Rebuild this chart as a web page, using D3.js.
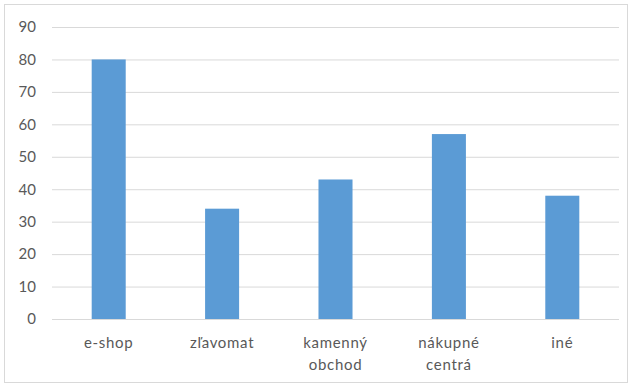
<!DOCTYPE html>
<html>
<head>
<meta charset="utf-8">
<script src="https://cdn.jsdelivr.net/npm/d3@7"></script>
<style>
  html, body { margin: 0; padding: 0; background: #fff; }
  svg { display: block; }
  text { font-family: Lato, "Open Sans", sans-serif; fill: #595959; }
</style>
</head>
<body>
<svg id="chart" width="628" height="384"></svg>
<script>
// Categories (multi-line labels split on "\n") and their values
const categories = ["e-shop", "zľavomat", "kamenný\nobchod", "nákupné\ncentrá", "iné"];
const values = [80, 34, 43, 57, 38];
const yTicks = [0, 10, 20, 30, 40, 50, 60, 70, 80, 90];

const W = 628, H = 384;
const plot = { left: 52, right: 619, top: 27, bottom: 319 };

const svg = d3.select("#chart");

// Outer chart border
svg.append("rect")
  .attr("x", 4.5).attr("y", 4.5)
  .attr("width", W - 5).attr("height", H - 6)
  .attr("fill", "#fff").attr("stroke", "#d9d9d9").attr("stroke-width", 1);

const x = d3.scaleBand()
  .domain(categories)
  .range([plot.left, plot.right])
  .paddingInner(0.7)
  .paddingOuter(0.35);

const y = d3.scaleLinear()
  .domain([0, 90])
  .range([plot.bottom, plot.top]);

// Horizontal gridlines with value labels
const yAxis = d3.axisLeft(y)
  .tickValues(yTicks)
  .tickSize(-(plot.right - plot.left))
  .tickPadding(16)
  .tickFormat(d3.format("d"));

const gy = svg.append("g")
  .attr("transform", `translate(${plot.left},0)`)
  .call(yAxis);
gy.select(".domain").remove();
gy.selectAll(".tick line").attr("stroke", "#d9d9d9").attr("stroke-width", 1);
gy.selectAll(".tick text")
  .attr("font-size", 15)
  .style("fill", "#595959");

// Bars
svg.append("g").selectAll("rect")
  .data(categories.map((c, i) => ({ c, v: values[i] })))
  .join("rect")
  .attr("x", d => x(d.c))
  .attr("width", x.bandwidth())
  .attr("y", d => y(d.v))
  .attr("height", d => y(0) - y(d.v))
  .attr("fill", "#5b9bd5");

// Category labels below the baseline
const gx = svg.append("g");
categories.forEach(c => {
  const lines = c.split("\n");
  const t = gx.append("text")
    .attr("text-anchor", "middle")
    .attr("font-size", 15)
    .attr("letter-spacing", 0.7)
    .attr("x", x(c) + x.bandwidth() / 2)
    .attr("y", 348);
  lines.forEach((ln, i) => {
    t.append("tspan")
      .attr("x", x(c) + x.bandwidth() / 2)
      .attr("dy", i === 0 ? 0 : 22)
      .text(ln);
  });
});
</script>
</body>
</html>
